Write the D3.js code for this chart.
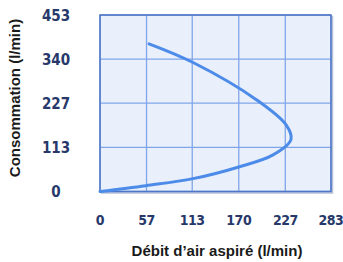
<!DOCTYPE html>
<html>
<head>
<meta charset="utf-8">
<script src="https://cdn.jsdelivr.net/npm/d3@7"></script>
<style>
  body { margin: 0; background: #fff; }
  .tick-lbl { font-family: "Liberation Sans Narrow", "DejaVu Sans Condensed", sans-serif; font-weight: bold; font-size: 15px; fill: #27396b; }
  .xl { font-size: 14px; letter-spacing: -0.5px; }
  .ttl { font-family: "Liberation Sans", Arial, sans-serif; font-weight: bold; font-size: 15px; fill: #1a1a1a; }
</style>
</head>
<body>
<div id="chart"></div>
<script>
// ticks
var xTicks = [0, 57, 113, 170, 227, 283];
var yTicks = [0, 113, 227, 340, 453];

// courbe : débit (x) / consommation (y)
var debit = [0, 56, 114, 170, 212, 234, 228, 192, 114, 60];
var conso = [0, 15, 33, 63, 94, 134, 171, 235, 331, 379];

var w = 343, h = 262;
var margin = {top: 15, right: 12, bottom: 70, left: 100};
var width = 331 - margin.left, height = 191.5 - margin.top;

var svg = d3.select("#chart").append("svg").attr("width", w).attr("height", h);

var x = d3.scaleLinear().domain([0, 283]).range([0, width]);
var y = d3.scaleLinear().domain([0, 453]).range([height, 0]);

var g = svg.append("g").attr("transform", "translate(" + margin.left + "," + margin.top + ")");

// ombre + fond
g.append("rect").attr("x", 1.5).attr("y", 1.5).attr("width", width).attr("height", height)
  .style("fill", "none").style("stroke", "#b8c2d6").style("stroke-width", 1.5);
g.append("rect").attr("width", width).attr("height", height).style("fill", "#e9f0fc");

// grille
g.selectAll(".vg").data(xTicks).enter().append("line")
  .attr("x1", function(d){ return x(d); }).attr("x2", function(d){ return x(d); })
  .attr("y1", 0).attr("y2", height)
  .style("stroke", "#80a6ea").style("stroke-width", 1.3);
g.selectAll(".hg").data(yTicks).enter().append("line")
  .attr("y1", function(d){ return y(d); }).attr("y2", function(d){ return y(d); })
  .attr("x1", 0).attr("x2", width)
  .style("stroke", "#80a6ea").style("stroke-width", 1.3);

g.append("rect").attr("width", width).attr("height", height)
  .style("fill", "none").style("stroke", "#4f76c4").style("stroke-width", 1.5);

// courbe
var pts = debit.map(function(d, i){ return [d, conso[i]]; });
var line = d3.line().x(function(d){ return x(d[0]); }).y(function(d){ return y(d[1]); })
  .curve(d3.curveCatmullRom.alpha(0.5));
g.append("path").datum(pts).attr("d", line)
  .style("fill", "none").style("stroke", "#4d8be9").style("stroke-width", 3).style("stroke-linecap", "round");

// labels des axes
svg.selectAll(".xl").data(xTicks).enter().append("text").attr("class", "tick-lbl xl")
  .attr("x", function(d){ return margin.left + x(d); }).attr("y", 225)
  .attr("text-anchor", "middle").text(function(d){ return d; });
svg.selectAll(".yl").data(yTicks).enter().append("text").attr("class", "tick-lbl yl")
  .attr("x", 56).attr("y", function(d){ return margin.top + y(d) + 5.5; })
  .attr("text-anchor", "middle").text(function(d){ return d; });

svg.append("text").attr("class", "ttl").attr("x", 217).attr("y", 256)
  .attr("text-anchor", "middle").text("Débit d’air aspiré (l/min)");
svg.append("text").attr("class", "ttl")
  .attr("transform", "translate(20,98) rotate(-90)")
  .attr("text-anchor", "middle").text("Consommation (l/min)");
</script>
</body>
</html>
